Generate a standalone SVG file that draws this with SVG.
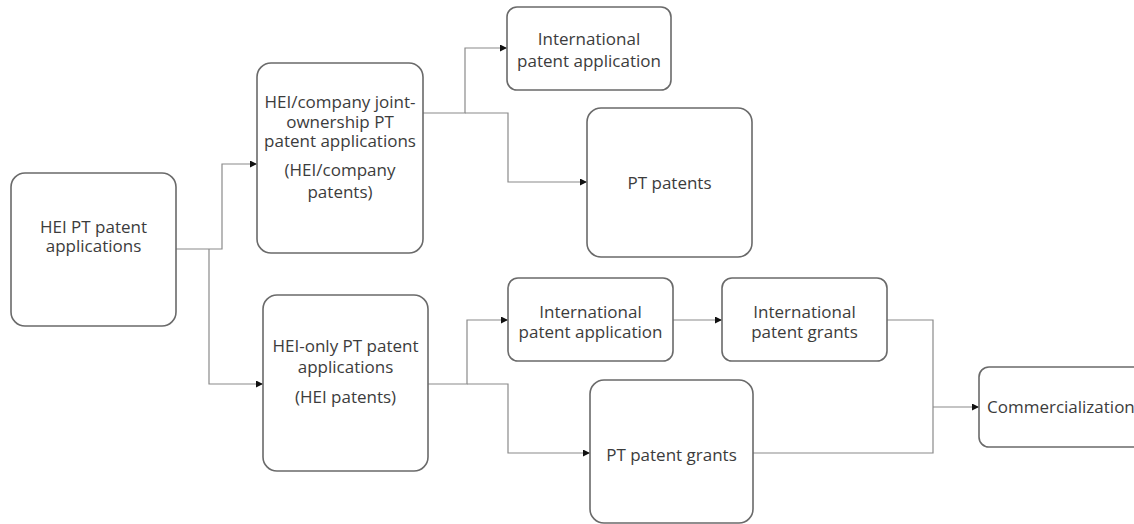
<svg xmlns="http://www.w3.org/2000/svg" width="1134" height="524" viewBox="0 0 1134 524">
  <defs>
    <marker id="arrow" viewBox="0 0 8 8" refX="8" refY="4" markerWidth="7" markerHeight="7" markerUnits="userSpaceOnUse" orient="auto">
      <path d="M0,0 L8,4 L0,8 Z" fill="#111"/>
    </marker>
    <style>
      .box { fill: #fff; stroke: #6a6a6a; stroke-width: 1.6; }
      .lbl { font-family: "Open Sans", "Liberation Sans", sans-serif; font-size: 17px; fill: #3c3c3c; text-anchor: middle; }
      .wire { fill: none; stroke: #8a8a8a; stroke-width: 1.2; }
    </style>
  </defs>
  <rect width="1134" height="524" fill="#fff"/>

  <!-- connectors -->
  <g id="connectors">
    <path class="wire" d="M176,249 H222 V164 H257" marker-end="url(#arrow)"/>
    <path class="wire" d="M209,249 V384 H263" marker-end="url(#arrow)"/>
    <path class="wire" d="M423,113 H465 V48 H507" marker-end="url(#arrow)"/>
    <path class="wire" d="M465,113 H508 V182 H587" marker-end="url(#arrow)"/>
    <path class="wire" d="M428,384 H467 V320 H508" marker-end="url(#arrow)"/>
    <path class="wire" d="M467,384 H508 V453 H590" marker-end="url(#arrow)"/>
    <path class="wire" d="M673,320 H722" marker-end="url(#arrow)"/>
    <path class="wire" d="M887,320 H933 V453 H753"/>
    <path class="wire" d="M933,407 H979" marker-end="url(#arrow)"/>
  </g>

  <g id="hei-pt-applications">
    <rect class="box" x="11" y="173" width="165" height="153" rx="14"/>
    <text class="lbl" x="93.5" y="233">HEI PT patent</text>
    <text class="lbl" x="93.5" y="252">applications</text>
  </g>

  <g id="joint-ownership">
    <rect class="box" x="257" y="63" width="166" height="190" rx="14"/>
    <text class="lbl" x="340" y="108">HEI/company joint-</text>
    <text class="lbl" x="340" y="128">ownership PT</text>
    <text class="lbl" x="340" y="147">patent applications</text>
    <text class="lbl" x="340" y="176">(HEI/company</text>
    <text class="lbl" x="340" y="198">patents)</text>
  </g>

  <g id="intl-application-top">
    <rect class="box" x="507" y="7" width="164" height="83" rx="10"/>
    <text class="lbl" x="589" y="45">International</text>
    <text class="lbl" x="589" y="67">patent application</text>
  </g>

  <g id="pt-patents">
    <rect class="box" x="587" y="108" width="165" height="149" rx="14"/>
    <text class="lbl" x="669.5" y="189">PT patents</text>
  </g>

  <g id="hei-only">
    <rect class="box" x="263" y="295" width="165" height="176" rx="14"/>
    <text class="lbl" x="345.5" y="352">HEI-only PT patent</text>
    <text class="lbl" x="345.5" y="373">applications</text>
    <text class="lbl" x="345.5" y="403">(HEI patents)</text>
  </g>

  <g id="intl-application-bottom">
    <rect class="box" x="508" y="278" width="165" height="83" rx="10"/>
    <text class="lbl" x="590.5" y="318">International</text>
    <text class="lbl" x="590.5" y="338">patent application</text>
  </g>

  <g id="intl-grants">
    <rect class="box" x="722" y="278" width="165" height="83" rx="10"/>
    <text class="lbl" x="804.5" y="318">International</text>
    <text class="lbl" x="804.5" y="338">patent grants</text>
  </g>

  <g id="pt-grants">
    <rect class="box" x="590" y="380" width="163" height="143" rx="14"/>
    <text class="lbl" x="671.5" y="461">PT patent grants</text>
  </g>

  <g id="commercialization">
    <rect class="box" x="979" y="367" width="180" height="80" rx="10"/>
    <text class="lbl" x="987" y="413" style="text-anchor:start">Commercialization</text>
  </g>
</svg>
